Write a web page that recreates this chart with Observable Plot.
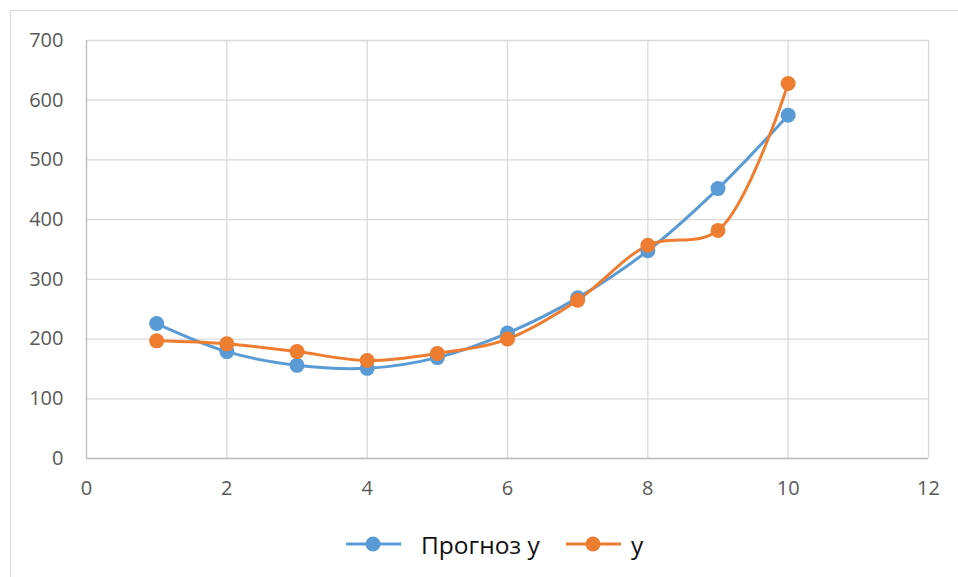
<!DOCTYPE html>
<html>
<head>
<meta charset="utf-8">
<script src="https://cdn.jsdelivr.net/npm/d3@7"></script>
<script src="https://cdn.jsdelivr.net/npm/@observablehq/plot@0.6"></script>
<style>
  html, body { margin: 0; padding: 0; background: #fff; }
  #wrap { position: relative; width: 958px; height: 577px; overflow: hidden; font-family: "Open Sans", sans-serif; }
  #border { position: absolute; left: 10px; top: 10px; width: 1000px; height: 1000px; border: 1px solid #d9d9d9; box-sizing: border-box; }
  #chart { position: absolute; left: 0; top: 0; }
  #legend { position: absolute; top: 527px; left: 0; width: 958px; height: 34px; }
  .item { position: absolute; top: 0; display: flex; align-items: center; height: 34px; font-size: 24.5px; color: #111; }
</style>
</head>
<body>
<div id="wrap">
  <div id="border"></div>
  <div id="chart"></div>
  <div id="legend"></div>
</div>
<script>
const xValues = [1, 2, 3, 4, 5, 6, 7, 8, 9, 10];
const forecastY = [226, 179, 156, 151, 169, 210, 269, 348, 452, 575];
const actualY = [197, 192, 179, 164, 176, 200, 265, 357, 382, 628];
const seriesNames = ["Прогноз y", "y"];
const seriesColors = ["#5B9BD5", "#ED7D31"];
const xTicks = [0, 2, 4, 6, 8, 10, 12];
const yTicks = [0, 100, 200, 300, 400, 500, 600, 700];

const data = [];
xValues.forEach((x, i) => data.push({x, y: forecastY[i], s: seriesNames[0]}));
xValues.forEach((x, i) => data.push({x, y: actualY[i], s: seriesNames[1]}));

const chart = Plot.plot({
  width: 958,
  height: 510,
  marginTop: 40,
  marginBottom: 52,
  marginLeft: 86,
  marginRight: 30,
  style: {fontFamily: "Open Sans, sans-serif", fontSize: "20px", color: "#595959", background: "transparent"},
  x: {domain: [0, 12]},
  y: {domain: [0, 700]},
  color: {domain: seriesNames, range: seriesColors},
  marks: [
    Plot.ruleY(yTicks, {stroke: "#d9d9d9", strokeWidth: 1.3, strokeOpacity: 1}),
    Plot.ruleX(xTicks, {stroke: "#d9d9d9", strokeWidth: 1.3, strokeOpacity: 1}),
    Plot.ruleX([0], {stroke: "#bfbfbf", strokeWidth: 1.3}),
    Plot.ruleY([0], {stroke: "#bfbfbf", strokeWidth: 1.3}),
    Plot.axisY({ticks: yTicks, tickSize: 0, tickPadding: 23, label: null, fill: "#595959", fontSize: 20}),
    Plot.axisX({ticks: xTicks, tickSize: 0, tickPadding: 22, label: null, fill: "#595959", fontSize: 20}),
    Plot.line(data, {x: "x", y: "y", z: "s", stroke: "s", strokeWidth: 3, curve: "catmull-rom"}),
    Plot.dot(data, {x: "x", y: "y", fill: "s", r: 7.5, stroke: null})
  ]
});
document.getElementById("chart").appendChild(chart);

const legend = document.getElementById("legend");
const positions = [346, 566];
const gaps = [20, 10];
seriesNames.forEach((name, i) => {
  const div = document.createElement("div");
  div.className = "item";
  div.style.left = positions[i] + "px";
  div.innerHTML = `<svg width="55" height="34" style="margin-right:${gaps[i]}px"><line x1="0" x2="55" y1="17" y2="17" stroke="${seriesColors[i]}" stroke-width="3"/><circle cx="27" cy="17" r="7.5" fill="${seriesColors[i]}"/></svg><span>${name}</span>`;
  legend.appendChild(div);
});
</script>
</body>
</html>
